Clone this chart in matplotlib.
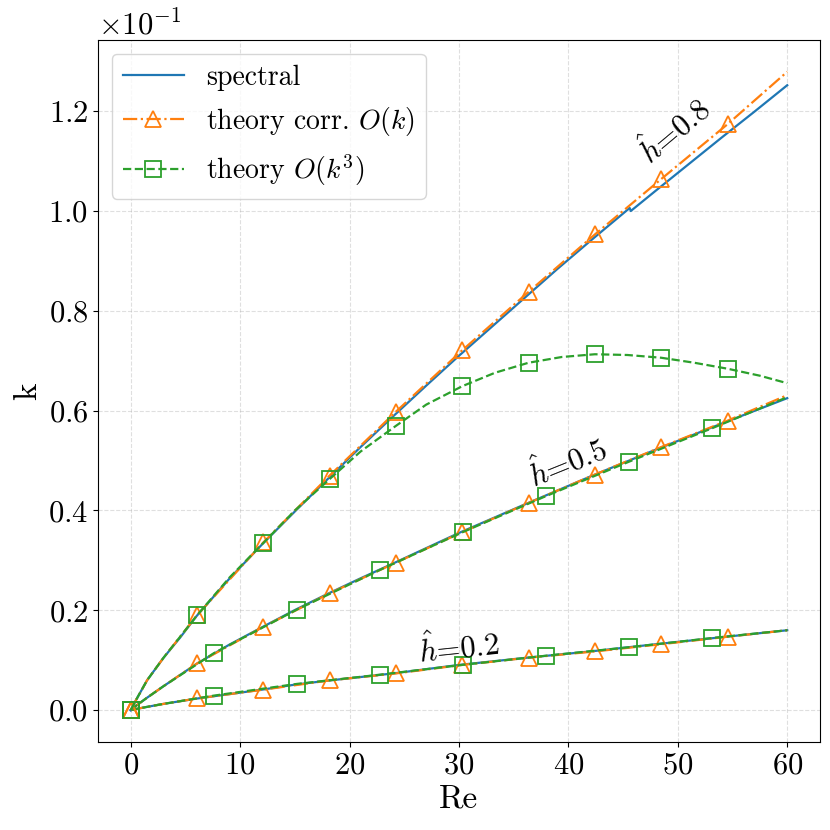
#!/usr/bin/env python3
# -*- coding: utf-8 -*-
"""
Wavenumber k versus Re: spectral solution against the two theory branches
for three film heights h = 0.2, 0.5, 0.8
"""

import numpy as np
import matplotlib
matplotlib.use('Agg')
import matplotlib.pyplot as plt

plt.rcParams['font.family'] = 'serif'
plt.rcParams['font.serif'] = ['cmr10', 'DejaVu Serif']
plt.rcParams['mathtext.fontset'] = 'cm'
plt.rcParams['axes.formatter.use_mathtext'] = True
plt.rcParams['axes.unicode_minus'] = True

# Re positions of the markers (theory curves)
re_tri = [0, 6.06, 12.12, 18.18, 24.24, 30.3, 36.36, 42.42, 48.48, 54.55]
re_sq = [0, 7.59, 15.19, 22.78, 30.38, 37.97, 45.57, 53.16]

# --- h = 0.2 ---
re_spec_02 = [0, 0.5, 1.5, 3, 6, 9, 12, 15, 18, 24, 30, 36, 42, 48, 54, 60]
k_spec_02 = [0, 0.00023, 0.00065, 0.00125, 0.0023, 0.0032, 0.0041, 0.0051, 0.0059,
             0.00735, 0.00905, 0.01045, 0.01175, 0.0132, 0.0146, 0.0160]
re_corr_02 = [0, 0.5, 1.5, 3, 6.06, 12.12, 18.18, 24.24, 30.3, 36.36, 42.42, 48.48, 54.55, 60]
k_corr_02 = [0, 0.00023, 0.00065, 0.00125, 0.00233, 0.0041, 0.00595, 0.00735, 0.00905,
             0.0105, 0.01175, 0.0132, 0.0147, 0.0160]
re_k3_02 = [0, 0.5, 1.5, 3, 7.59, 15.19, 22.78, 30.38, 37.97, 45.57, 53.16, 60]
k_k3_02 = [0, 0.00023, 0.00065, 0.00125, 0.0029, 0.00525, 0.0071, 0.00908, 0.0109,
           0.0126, 0.01445, 0.0160]

# --- h = 0.5 ---
re_spec_05 = [0, 0.5, 1.5, 3, 6, 9, 12, 15, 18, 21, 24, 30, 36, 42, 48, 54, 60]
k_spec_05 = [0, 0.0009, 0.0025, 0.0048, 0.00925, 0.0131, 0.0166, 0.02005, 0.0233,
             0.0264, 0.0294, 0.0355, 0.0412, 0.0468, 0.0522, 0.0574, 0.0625]
re_corr_05 = [0, 0.5, 1.5, 3, 6.06, 12.12, 18.18, 24.24, 30.3, 36.36, 42.42, 48.48, 54.55, 60]
k_corr_05 = [0, 0.0009, 0.0025, 0.0048, 0.00935, 0.0167, 0.0234, 0.02955, 0.03565,
             0.0415, 0.0472, 0.0527, 0.0580, 0.0631]
re_k3_05 = [0, 0.5, 1.5, 3, 7.59, 15.19, 22.78, 30.38, 37.97, 45.57, 53.16, 60]
k_k3_05 = [0, 0.0009, 0.0025, 0.0048, 0.0114, 0.02015, 0.0281, 0.0357, 0.0429,
           0.0498, 0.0565, 0.0627]

# --- h = 0.8 ---
re_spec_08 = [0, 0.5, 1.5, 3, 4.5, 6, 9, 12, 15, 18, 21, 24, 27, 30, 33, 36, 39, 42,
              45.6, 45.7, 48, 51, 54, 57, 60]
k_spec_08 = [0, 0.0021, 0.006, 0.0105, 0.0145, 0.0188, 0.0263, 0.0332, 0.0398, 0.0463,
             0.0527, 0.0589, 0.065, 0.071, 0.0768, 0.0826, 0.0884, 0.094,
             0.1006, 0.1000, 0.1041, 0.1094, 0.1147, 0.1199, 0.1252]
re_corr_08 = [0, 0.5, 1.5, 3, 6.06, 12.12, 18.18, 24.24, 30.3, 36.36, 42.42, 48.48, 54.55, 60]
k_corr_08 = [0, 0.0021, 0.006, 0.0105, 0.019, 0.0336, 0.047, 0.0598, 0.0721, 0.0838,
             0.0953, 0.1064, 0.1174, 0.1279]
re_k3_08 = [0, 0.5, 1.5, 3, 6.06, 9, 12.12, 15, 18.18, 21, 24.24, 27, 30.3, 33.3, 36.36,
            39.4, 42.42, 45.4, 48.48, 51.5, 54.55, 57.5, 60]
k_k3_08 = [0, 0.0021, 0.006, 0.0105, 0.019, 0.0265, 0.0335, 0.040, 0.0463, 0.0518,
           0.05696, 0.0612, 0.0649, 0.0676, 0.0696, 0.07075, 0.0713, 0.07115, 0.0706,
           0.0696, 0.0684, 0.0670, 0.0655]

alturas = [
    ('0.2', re_spec_02, k_spec_02, re_corr_02, k_corr_02, re_k3_02, k_k3_02),
    ('0.5', re_spec_05, k_spec_05, re_corr_05, k_corr_05, re_k3_05, k_k3_05),
    ('0.8', re_spec_08, k_spec_08, re_corr_08, k_corr_08, re_k3_08, k_k3_08),
]

# etiquetas de cada curva: (Re, k, rotacion)
etiquetas = {
    '0.2': (30.0, 0.0127, 6),
    '0.5': (39.9, 0.04975, 22),
    '0.8': (49.6, 0.1162, 40),
}


def marcas(re, puntos):
    """Indices booleanos de los puntos con marcador"""
    return list(np.isin(np.round(re, 2), np.round(puntos, 2)))


fig, ax = plt.subplots(figsize=(8.3, 8.3), dpi=100)
fig.subplots_adjust(left=0.118, right=0.988, top=0.952, bottom=0.106)

for i, (h, re_s, k_s, re_c, k_c, re_3, k_3) in enumerate(alturas):
    ax.plot(re_s, k_s, '-', color='#1f77b4', linewidth=1.6,
            label='spectral' if i == 0 else None)
    ax.plot(re_c, k_c, '-.', color='#ff7f0e', linewidth=1.6,
            marker='^', markersize=11, markerfacecolor='none', markeredgewidth=1.3,
            markevery=marcas(re_c, re_tri),
            label=r'theory corr. $O(k)$' if i == 0 else None)
    sq_pos = re_tri if h == '0.8' else re_sq
    ax.plot(re_3, k_3, '--', color='#2ca02c', linewidth=1.6,
            marker='s', markersize=11, markerfacecolor='none', markeredgewidth=1.3,
            markevery=marcas(re_3, sq_pos),
            label=r'theory $O(k^3)$' if i == 0 else None)
    x, y, rot = etiquetas[h]
    ax.text(x, y, r'$\hat{h}$=' + h, fontsize=22, rotation=rot,
            ha='center', va='center', rotation_mode='anchor')

ax.ticklabel_format(axis='y', style='sci', scilimits=(0, 0), useMathText=True)
ax.set_xlabel('Re', fontsize=24)
ax.set_ylabel('k', fontsize=24)
ax.tick_params(labelsize=22)
ax.yaxis.get_offset_text().set_fontsize(22)
ax.grid(True, linestyle='--', alpha=0.4)
ax.legend(loc='upper left', fontsize=20, handlelength=2.2)

plt.savefig('out.png', dpi=100)
print("[OK] Grafica guardada: out.png")
